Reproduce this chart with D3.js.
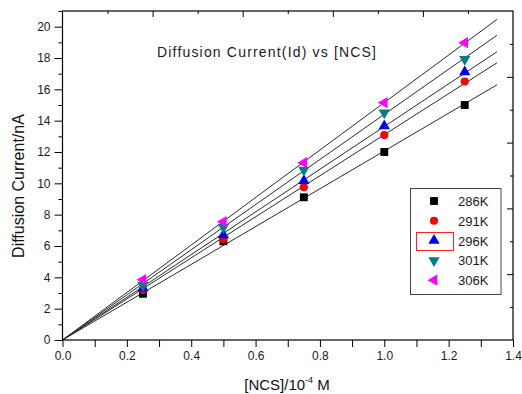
<!DOCTYPE html>
<html>
<head>
<meta charset="utf-8">
<script src="https://cdn.jsdelivr.net/npm/d3@7"></script>
<style>
  html, body { margin: 0; padding: 0; background: #fff; }
  svg { display: block; font-family: Arial, "Liberation Sans", sans-serif; }
</style>
</head>
<body>
<div id="chart"></div>
<script>
// ---- data ----
const concentrations = [0.25, 0.5, 0.75, 1.0, 1.25];
const seriesNames = ["286K", "291K", "296K", "301K", "306K"];
const values286 = [2.95, 6.3, 9.11, 12.0, 15.0];
const values291 = [3.2, 6.45, 9.75, 13.08, 16.5];
const values296 = [3.3, 6.7, 10.17, 13.66, 17.1];
const values301 = [3.5, 7.2, 10.85, 14.5, 17.92];
const values306 = [3.85, 7.55, 11.32, 15.15, 18.98];
const seriesColors = ["#000000", "#ff0000", "#0000ff", "#008080", "#ff00ff"];
const xTicks = [0.0, 0.2, 0.4, 0.6, 0.8, 1.0, 1.2, 1.4];
const yTicks = [0, 2, 4, 6, 8, 10, 12, 14, 16, 18, 20];
const fitRange = [0, 1.35];
const titleText = "Diffusion Current(Id) vs [NCS]";
const yLabel = "Diffusion Current/nA";

const seriesValues = [values286, values291, values296, values301, values306];

const W = 522, H = 394;
const margin = { left: 62.5, right: 9, top: 11, bottom: 54 };
const svg = d3.select("#chart").append("svg").attr("width", W).attr("height", H);

const x = d3.scaleLinear().domain([0, 1.4]).range([margin.left, W - margin.right]);
const y = d3.scaleLinear().domain([0, 21]).range([H - margin.bottom, margin.top]);
// mirrored top/right axes use their own 0..5 scales (as in the original)
const xTop = d3.scaleLinear().domain([0, 5]).range(x.range());
const yRight = d3.scaleLinear().domain([0, 5]).range(y.range());

const x0 = x.range()[0], x1 = x.range()[1], y0 = y.range()[0], y1 = y.range()[1];

// ---- fit lines (least squares through origin) ----
const lineGen = d3.line().x(d => x(d[0])).y(d => y(d[1]));
const fitG = svg.append("g");
seriesValues.forEach(vals => {
  const sxy = d3.sum(concentrations, (c, i) => c * vals[i]);
  const sxx = d3.sum(concentrations, c => c * c);
  const k = sxy / sxx;
  fitG.append("path")
    .attr("d", lineGen(fitRange.map(v => [v, k * v])))
    .attr("fill", "none").attr("stroke", "#2a2a2a").attr("stroke-width", 1);
});

// ---- markers ----
const symbolDefs = [
  { type: d3.symbolSquare, size: 62, rot: 0 },
  { type: d3.symbolCircle, size: 52, rot: 0 },
  { type: d3.symbolTriangle, size: 55, rot: 0 },
  { type: d3.symbolTriangle, size: 55, rot: 180 },
  { type: d3.symbolTriangle, size: 55, rot: -90 }
];
const markG = svg.append("g");
seriesValues.forEach((vals, si) => {
  const def = symbolDefs[si];
  markG.selectAll(null).data(vals).enter().append("path")
    .attr("d", d3.symbol().type(def.type).size(def.size))
    .attr("transform", (d, i) => `translate(${x(concentrations[i])},${y(d)}) rotate(${def.rot})`)
    .attr("fill", seriesColors[si]);
});

// ---- axes ----
const fmt1 = d3.format(".1f");
const bottom = svg.append("g").attr("transform", `translate(0,${y0})`)
  .call(d3.axisBottom(x).tickValues(d3.range(0, 15).map(i => i / 10)).tickSize(7)
    .tickFormat(d => (Math.round(d * 10) % 2 === 0 ? fmt1(d) : "")).tickPadding(4));
const left = svg.append("g").attr("transform", `translate(${x0},0)`)
  .call(d3.axisLeft(y).tickValues(yTicks).tickSize(8).tickPadding(4));
svg.append("g").attr("transform", `translate(${x0},0)`)
  .call(d3.axisLeft(y).tickValues(d3.range(1, 22, 2)).tickSize(4).tickFormat(""));
// top axis (inward)
svg.append("g").attr("transform", `translate(0,${y1})`)
  .call(d3.axisBottom(xTop).tickValues([1, 2, 3, 4]).tickSize(6).tickFormat(""));
svg.append("g").attr("transform", `translate(0,${y1})`)
  .call(d3.axisBottom(xTop).tickValues([0.5, 1.5, 2.5, 3.5, 4.5]).tickSize(3).tickFormat(""));
// right axis (inward)
svg.append("g").attr("transform", `translate(${x1},0)`)
  .call(d3.axisLeft(yRight).tickValues([1, 2, 3, 4]).tickSize(6).tickFormat(""));
svg.append("g").attr("transform", `translate(${x1},0)`)
  .call(d3.axisLeft(yRight).tickValues([0.5, 1.5, 2.5, 3.5, 4.5]).tickSize(3).tickFormat(""));

svg.selectAll(".domain").remove();
svg.selectAll(".tick line").attr("stroke", "#000").attr("stroke-width", 1);
svg.selectAll(".tick text").attr("font-size", 12).attr("fill", "#1a1a2a")
  .attr("font-family", "Arial, 'Liberation Sans', sans-serif");

// frame
svg.append("rect").attr("x", x0).attr("y", y1).attr("width", x1 - x0).attr("height", y0 - y1)
  .attr("fill", "none").attr("stroke", "#000").attr("stroke-width", 1.2);

// ---- texts ----
svg.append("text").attr("x", 157).attr("y", 56.5).attr("font-size", 14)
  .attr("textLength", 219).attr("lengthAdjust", "spacing")
  .attr("fill", "#1a1a2a").text(titleText);

svg.append("text").attr("transform", `translate(24,186) rotate(-90)`)
  .attr("text-anchor", "middle").attr("font-size", 16).attr("fill", "#111").text(yLabel);

const xl = svg.append("text").attr("x", 287).attr("y", 390).attr("text-anchor", "middle")
  .attr("font-size", 15).attr("fill", "#111");
xl.append("tspan").text("[NCS]/10");
xl.append("tspan").attr("font-size", 9).attr("dy", -7).text("-4");
xl.append("tspan").attr("dy", 7).text(" M");

// ---- legend ----
const lg = svg.append("g");
lg.append("rect").attr("x", 410.5).attr("y", 188.5).attr("width", 90.5).attr("height", 106)
  .attr("fill", "#fff").attr("stroke", "#444").attr("stroke-width", 1);
lg.append("rect").attr("x", 416.5).attr("y", 232.5).attr("width", 37).attr("height", 18)
  .attr("fill", "none").attr("stroke", "#ff2020").attr("stroke-width", 1);
seriesNames.forEach((name, si) => {
  const cy = 201 + si * 19.8;
  const def = symbolDefs[si];
  lg.append("path").attr("d", d3.symbol().type(def.type).size(def.size))
    .attr("transform", `translate(434,${cy}) rotate(${def.rot})`).attr("fill", seriesColors[si]);
  lg.append("text").attr("x", 458).attr("y", cy + 5).attr("font-size", 13)
    .attr("fill", "#1a1a2a").text(name);
});
</script>
</body>
</html>
